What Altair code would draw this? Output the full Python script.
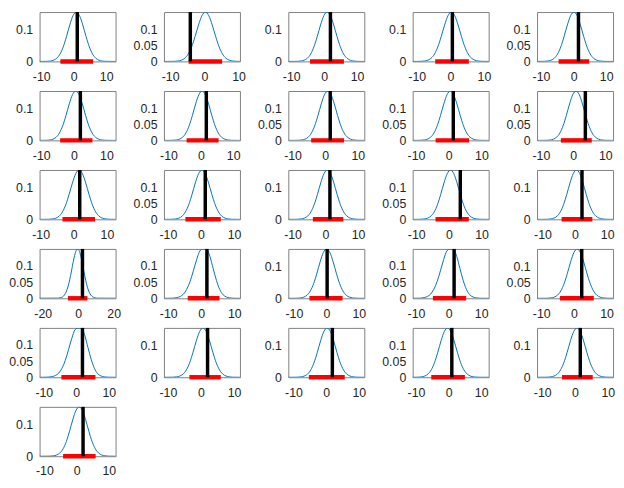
import altair as alt
import pandas as pd

# ---- per-panel values (26 panels, 5 per row) ----
X_MIN = [-10.5, -11.8, -10.9, -11.2, -11.2,
         -10.5, -11.4, -11.3, -11.0, -11.2,
         -10.3, -11.2, -11.3, -11.1, -11.7,
         -21.8, -11.3, -11.7, -11.0, -11.3,
         -11.3, -11.2, -11.6, -11.0, -11.6,
         -11.5]
X_MAX = [12.9, 10.4, 12.2, 11.4, 12.1,
         12.8, 12.1, 12.0, 12.2, 12.4,
         12.6, 11.8, 11.9, 12.2, 11.8,
         21.1, 11.7, 11.7, 12.3, 12.0,
         12.1, 11.8, 11.7, 12.3, 11.6,
         12.1]
CURVE_PEAK_X = [0.8, 0.3, 0.9, 0.3, 0.1,
                0.6, 0.4, 0.8, 0.5, 0.9,
                1.6, 0.3, 0.6, 0.5, 0.5,
                -0.3, 0.6, 0.1, 0.5, 1.0,
                0.6, 0.6, 0.3, -0.3, 0.6,
                0.8]
OBSERVED = [1.1, -4.1, 1.9, 0.6, 1.5,
            2.0, 1.7, 1.55, 1.4, 3.8,
            1.8, 1.3, 1.4, 3.5, 2.2,
            2.4, 1.7, 0.25, 1.7, 2.4,
            1.9, 2.0, 1.9, 1.0, 1.6,
            2.0]
INTERVAL_LO = [-4.1, -4.6, -4.3, -4.5, -4.6,
               -4.2, -4.4, -4.3, -4.0, -3.8,
               -3.4, -4.7, -3.8, -4.1, -4.1,
               -5.8, -4.1, -5.2, -4.8, -4.3,
               -4.6, -3.5, -5.3, -5.3, -4.0,
               -4.2]
INTERVAL_HI = [6.0, 5.2, 6.0, 5.5, 4.8,
               5.7, 5.5, 5.8, 6.2, 5.8,
               6.4, 6.0, 5.5, 6.1, 5.4,
               5.2, 5.5, 5.0, 5.4, 6.1,
               5.9, 6.0, 5.7, 5.0, 5.4,
               5.9]
PROFILE_OF_PANEL = ["sym", "sym", "sym", "sym", "sym",
                    "sym", "sym", "sym", "sym", "sym",
                    "sym", "sym", "sym", "sym", "sym",
                    "wide", "flat", "sym", "flat", "sym",
                    "flat", "sym", "sym", "sym", "sym",
                    "sym"]
SHOW_005 = [False, True, False, False, True,
            False, True, True, True, True,
            False, True, False, True, False,
            True, True, False, True, True,
            True, False, False, True, False,
            False]
X_TICKS_NORMAL = [-10, 0, 10]
X_TICKS_WIDE = [-20, 0, 20]
Y_TICKS_FULL = [0, 0.05, 0.1]
Y_TICKS_SHORT = [0, 0.1]

# density curve heights at offsets from each panel's peak
DENSITY_OFFSETS = [-30, -11, -10, -9, -8, -7, -6, -5, -4, -3, -2, -1, 0,
                   1, 2, 3, 4, 5, 6, 7, 8, 9, 10, 11, 30]
DENSITY_SYM = [0, 0, 0.0001, 0.0003, 0.0012, 0.0038, 0.0101, 0.0233, 0.0461,
               0.0784, 0.1145, 0.1437, 0.155, 0.1437, 0.1145, 0.0784, 0.0461,
               0.0233, 0.0101, 0.0038, 0.0012, 0.0003, 0.0001, 0, 0]
DENSITY_FLAT = [0, 0, 0.0002, 0.0006, 0.002, 0.0055, 0.013, 0.028, 0.052,
                0.085, 0.12, 0.147, 0.153, 0.152, 0.13, 0.092, 0.055,
                0.027, 0.011, 0.004, 0.0012, 0.0003, 0.0001, 0, 0]
DENSITY_WIDE = [0, 0.0005, 0.0013, 0.003, 0.0068, 0.0142, 0.0266, 0.0455, 0.0705,
                0.099, 0.1265, 0.1458, 0.153, 0.1455, 0.1255, 0.098, 0.0695,
                0.0445, 0.0258, 0.0137, 0.0065, 0.0028, 0.0011, 0.0004, 0]
PROFILES = {"sym": DENSITY_SYM, "flat": DENSITY_FLAT, "wide": DENSITY_WIDE}

PANEL_W = 77
PANEL_H = 50


def make_panel(i):
    dens = PROFILES[PROFILE_OF_PANEL[i]]
    ymax = max(dens)
    curve_df = pd.DataFrame({
        "x": [CURVE_PEAK_X[i] + o for o in DENSITY_OFFSETS],
        "density": dens,
    })
    stats_df = pd.DataFrame({
        "lo": [INTERVAL_LO[i]],
        "hi": [INTERVAL_HI[i]],
        "obs": [OBSERVED[i]],
        "zero": [0.0],
        "top": [ymax],
    })
    xscale = alt.Scale(domain=[X_MIN[i], X_MAX[i]], nice=False, zero=False, padding=0)
    yscale = alt.Scale(domain=[0, ymax], nice=False, zero=False, padding=0)
    xticks = X_TICKS_WIDE if i == 15 else X_TICKS_NORMAL
    yticks = Y_TICKS_FULL if SHOW_005[i] else Y_TICKS_SHORT
    xaxis = alt.Axis(values=xticks, title=None, labelExpr="'' + datum.value")
    yaxis = alt.Axis(values=yticks, title=None, labelExpr="'' + datum.value")

    curve = alt.Chart(curve_df).mark_line(
        color="#0072BD", strokeWidth=1, interpolate="monotone", clip=True
    ).encode(
        x=alt.X("x:Q", scale=xscale, axis=xaxis),
        y=alt.Y("density:Q", scale=yscale, axis=yaxis),
    )
    interval = alt.Chart(stats_df).mark_bar(
        color="#FF0000", height=4.5, orient="horizontal"
    ).encode(
        x=alt.X("lo:Q", scale=xscale, axis=xaxis),
        x2="hi:Q",
        y=alt.Y("zero:Q", scale=yscale, axis=yaxis),
    )
    observed = alt.Chart(stats_df).mark_bar(
        color="#000000", width=3.5, orient="vertical"
    ).encode(
        x=alt.X("obs:Q", scale=xscale, axis=xaxis),
        y=alt.Y("top:Q", scale=yscale, axis=yaxis),
        y2="zero:Q",
    )
    return alt.layer(curve, interval, observed).properties(
        width=PANEL_W, height=PANEL_H
    )


panels = [make_panel(i) for i in range(len(OBSERVED))]

chart = alt.concat(
    *panels,
    columns=5,
    spacing={"row": 30, "column": 49},
    bounds="flush",
    padding=0,
    background="white",
).configure_view(
    stroke="#808080", strokeWidth=1
).configure_axis(
    labelFont="Liberation Sans",
    labelFontSize=12.5,
    labelColor="#262626",
    domain=False,
    ticks=False,
    tickSize=0,
    grid=False,
    labelFlush=False,
    labelOverlap=False,
).configure_axisX(
    labelPadding=9
).configure_axisY(
    labelPadding=7
)

chart.save("out.html", embed_options={"renderer": "svg", "actions": False})
